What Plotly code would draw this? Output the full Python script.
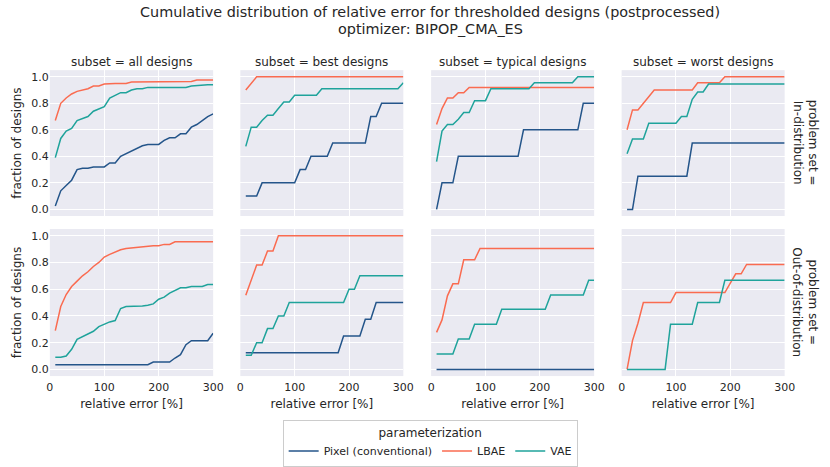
import plotly.graph_objects as go

# ---------------- data ----------------
thresholds = [10, 20, 30, 40, 50, 60, 70, 80, 90, 100,
              110, 120, 130, 140, 150, 160, 170, 180, 190, 200,
              210, 220, 230, 240, 250, 260, 270, 280, 290, 300]

subsets = ["all designs", "best designs", "typical designs", "worst designs"]
problem_sets = ["In-distribution", "Out-of-distribution"]
methods = ["Pixel (conventional)", "LBAE", "VAE"]
title_lines = ["Cumulative distribution of relative error for thresholded designs (postprocessed)",
               "optimizer: BIPOP_CMA_ES"]

# In-distribution
id_all_pixel = [0.025, 0.14, 0.18, 0.22, 0.30, 0.31, 0.31, 0.32, 0.32, 0.32,
                0.35, 0.35, 0.40, 0.42, 0.44, 0.46, 0.48, 0.49, 0.49, 0.49,
                0.52, 0.54, 0.54, 0.57, 0.57, 0.62, 0.64, 0.67, 0.70, 0.72]
id_all_lbae = [0.67, 0.80, 0.84, 0.87, 0.89, 0.90, 0.91, 0.93, 0.93, 0.945,
               0.95, 0.95, 0.95, 0.95, 0.96, 0.96, 0.96, 0.96, 0.965, 0.965,
               0.965, 0.965, 0.965, 0.965, 0.965, 0.965, 0.975, 0.975, 0.975, 0.975]
id_all_vae = [0.39, 0.535, 0.59, 0.61, 0.67, 0.685, 0.70, 0.74, 0.76, 0.775,
              0.84, 0.86, 0.88, 0.88, 0.90, 0.91, 0.91, 0.92, 0.92, 0.92,
              0.92, 0.92, 0.92, 0.92, 0.92, 0.93, 0.935, 0.935, 0.94, 0.94]

id_best_pixel = [0.1, 0.1, 0.1, 0.2, 0.2, 0.2, 0.2, 0.2, 0.2, 0.2,
                 0.3, 0.3, 0.4, 0.4, 0.4, 0.4, 0.5, 0.5, 0.5, 0.5,
                 0.5, 0.5, 0.5, 0.7, 0.7, 0.8, 0.8, 0.8, 0.8, 0.8]
id_best_lbae = [0.9, 0.95, 1.0, 1.0, 1.0, 1.0, 1.0, 1.0, 1.0, 1.0,
                1.0, 1.0, 1.0, 1.0, 1.0, 1.0, 1.0, 1.0, 1.0, 1.0,
                1.0, 1.0, 1.0, 1.0, 1.0, 1.0, 1.0, 1.0, 1.0, 1.0]
id_best_vae = [0.475, 0.62, 0.62, 0.67, 0.71, 0.71, 0.76, 0.81, 0.81, 0.86,
               0.86, 0.86, 0.86, 0.86, 0.91, 0.91, 0.91, 0.91, 0.91, 0.91,
               0.91, 0.91, 0.91, 0.91, 0.91, 0.91, 0.91, 0.91, 0.91, 0.955]

id_typical_pixel = [0.0, 0.2, 0.2, 0.2, 0.4, 0.4, 0.4, 0.4, 0.4, 0.4,
                    0.4, 0.4, 0.4, 0.4, 0.4, 0.4, 0.6, 0.6, 0.6, 0.6,
                    0.6, 0.6, 0.6, 0.6, 0.6, 0.6, 0.6, 0.8, 0.8, 0.8]
id_typical_lbae = [0.64, 0.76, 0.84, 0.84, 0.88, 0.88, 0.92, 0.92, 0.92, 0.92,
                   0.92, 0.92, 0.92, 0.92, 0.92, 0.92, 0.92, 0.92, 0.92, 0.92,
                   0.92, 0.92, 0.92, 0.92, 0.92, 0.92, 0.92, 0.92, 0.92, 0.92]
id_typical_vae = [0.36, 0.59, 0.64, 0.64, 0.68, 0.73, 0.73, 0.82, 0.82, 0.82,
                  0.91, 0.91, 0.91, 0.91, 0.91, 0.91, 0.91, 0.91, 0.955, 0.955,
                  0.955, 0.955, 0.955, 0.955, 0.955, 0.955, 1.0, 1.0, 1.0, 1.0]

id_worst_pixel = [0.0, 0.0, 0.25, 0.25, 0.25, 0.25, 0.25, 0.25, 0.25, 0.25,
                  0.25, 0.25, 0.5, 0.5, 0.5, 0.5, 0.5, 0.5, 0.5, 0.5,
                  0.5, 0.5, 0.5, 0.5, 0.5, 0.5, 0.5, 0.5, 0.5, 0.5]
id_worst_lbae = [0.6, 0.75, 0.75, 0.8, 0.85, 0.9, 0.9, 0.9, 0.9, 0.9,
                 0.9, 0.9, 0.9, 0.955, 0.955, 0.955, 0.955, 0.955, 1.0, 1.0,
                 1.0, 1.0, 1.0, 1.0, 1.0, 1.0, 1.0, 1.0, 1.0, 1.0]
id_worst_vae = [0.42, 0.53, 0.53, 0.53, 0.65, 0.65, 0.65, 0.65, 0.65, 0.65,
                0.70, 0.70, 0.83, 0.885, 0.885, 0.945, 0.945, 0.945, 0.945, 0.945,
                0.945, 0.945, 0.945, 0.945, 0.945, 0.945, 0.945, 0.945, 0.945, 0.945]

# Out-of-distribution
ood_all_pixel = [0.035, 0.035, 0.035, 0.035, 0.035, 0.035, 0.035, 0.035, 0.035, 0.035,
                 0.035, 0.035, 0.035, 0.035, 0.035, 0.035, 0.035, 0.035, 0.055, 0.055,
                 0.055, 0.055, 0.085, 0.11, 0.185, 0.215, 0.215, 0.215, 0.215, 0.27]
ood_all_lbae = [0.29, 0.47, 0.56, 0.62, 0.66, 0.70, 0.73, 0.77, 0.80, 0.84,
                0.86, 0.88, 0.895, 0.905, 0.91, 0.91, 0.915, 0.925, 0.925, 0.925,
                0.935, 0.935, 0.955, 0.955, 0.955, 0.955, 0.955, 0.955, 0.955, 0.955]
ood_all_vae = [0.09, 0.09, 0.10, 0.15, 0.225, 0.245, 0.27, 0.285, 0.32, 0.34,
               0.355, 0.365, 0.455, 0.47, 0.47, 0.47, 0.475, 0.48, 0.49, 0.525,
               0.54, 0.57, 0.59, 0.61, 0.61, 0.62, 0.62, 0.62, 0.635, 0.635]

ood_best_pixel = [0.125, 0.125, 0.125, 0.125, 0.125, 0.125, 0.125, 0.125, 0.125, 0.125,
                  0.125, 0.125, 0.125, 0.125, 0.125, 0.125, 0.125, 0.125, 0.25, 0.25,
                  0.25, 0.25, 0.375, 0.375, 0.5, 0.5, 0.5, 0.5, 0.5, 0.5]
ood_best_lbae = [0.555, 0.665, 0.78, 0.78, 0.885, 0.885, 1.0, 1.0, 1.0, 1.0,
                 1.0, 1.0, 1.0, 1.0, 1.0, 1.0, 1.0, 1.0, 1.0, 1.0,
                 1.0, 1.0, 1.0, 1.0, 1.0, 1.0, 1.0, 1.0, 1.0, 1.0]
ood_best_vae = [0.105, 0.105, 0.2, 0.2, 0.305, 0.305, 0.4, 0.4, 0.5, 0.5,
                0.5, 0.5, 0.5, 0.5, 0.5, 0.5, 0.5, 0.5, 0.5, 0.6,
                0.6, 0.7, 0.7, 0.7, 0.7, 0.7, 0.7, 0.7, 0.7, 0.7]

ood_typical_pixel = [0.0, 0.0, 0.0, 0.0, 0.0, 0.0, 0.0, 0.0, 0.0, 0.0,
                     0.0, 0.0, 0.0, 0.0, 0.0, 0.0, 0.0, 0.0, 0.0, 0.0,
                     0.0, 0.0, 0.0, 0.0, 0.0, 0.0, 0.0, 0.0, 0.0, 0.0]
ood_typical_lbae = [0.277, 0.37, 0.55, 0.64, 0.64, 0.82, 0.82, 0.82, 0.905, 0.905,
                    0.905, 0.905, 0.905, 0.905, 0.905, 0.905, 0.905, 0.905, 0.905, 0.905,
                    0.905, 0.905, 0.905, 0.905, 0.905, 0.905, 0.905, 0.905, 0.905, 0.905]
ood_typical_vae = [0.115, 0.115, 0.115, 0.115, 0.227, 0.227, 0.227, 0.338, 0.338, 0.338,
                   0.338, 0.338, 0.45, 0.45, 0.45, 0.45, 0.45, 0.45, 0.45, 0.45,
                   0.45, 0.556, 0.556, 0.556, 0.556, 0.556, 0.556, 0.556, 0.667, 0.667]

ood_worst_pixel = None  # no pixel designs in this subset
ood_worst_lbae = [0.0, 0.215, 0.345, 0.5, 0.5, 0.5, 0.5, 0.5, 0.5, 0.575,
                  0.575, 0.575, 0.575, 0.575, 0.575, 0.575, 0.575, 0.575, 0.575, 0.645,
                  0.715, 0.715, 0.785, 0.785, 0.785, 0.785, 0.785, 0.785, 0.785, 0.785]
ood_worst_vae = [0.0, 0.0, 0.0, 0.0, 0.0, 0.0, 0.0, 0.0, 0.338, 0.338,
                 0.338, 0.338, 0.338, 0.5, 0.5, 0.5, 0.5, 0.5, 0.667, 0.667,
                 0.667, 0.667, 0.667, 0.667, 0.667, 0.667, 0.667, 0.667, 0.667, 0.667]

panels = [
    [(id_all_pixel, id_all_lbae, id_all_vae),
     (id_best_pixel, id_best_lbae, id_best_vae),
     (id_typical_pixel, id_typical_lbae, id_typical_vae),
     (id_worst_pixel, id_worst_lbae, id_worst_vae)],
    [(ood_all_pixel, ood_all_lbae, ood_all_vae),
     (ood_best_pixel, ood_best_lbae, ood_best_vae),
     (ood_typical_pixel, ood_typical_lbae, ood_typical_vae),
     (ood_worst_pixel, ood_worst_lbae, ood_worst_vae)],
]

# ---------------- style ----------------
W, H = 830, 467
FONT = "DejaVu Sans"
TXT = "#262626"
colors = {"Pixel (conventional)": "#24558a", "LBAE": "#fa6b50", "VAE": "#1fa39b"}


def px(x):
    return x / W


def py(y):
    return 1 - y / H


col_px = [(46.7, 213.0), (240.7, 406.7), (435.0, 601.0), (629.0, 795.0)]
row_px = [(70.6, 217.4), (230.5, 378.5)]

fig = go.Figure()
shown = set()
for r in range(2):
    for c in range(4):
        k = r * 4 + c + 1
        xa = "x" if k == 1 else f"x{k}"
        ya = "y" if k == 1 else f"y{k}"
        for m, vals in zip(methods, panels[r][c]):
            if vals is None:
                continue
            fig.add_trace(go.Scatter(
                x=thresholds, y=vals, mode="lines", name=m,
                line=dict(color=colors[m], width=1.5),
                legendgroup=m, showlegend=(m not in shown),
                xaxis=xa, yaxis=ya))
            shown.add(m)
        x0, x1 = col_px[c]
        y0, y1 = row_px[r]
        xkey = "xaxis" if k == 1 else f"xaxis{k}"
        ykey = "yaxis" if k == 1 else f"yaxis{k}"
        fig.layout[xkey] = dict(
            domain=[px(x0), px(x1)], anchor=ya, range=[0, 300],
            tickvals=[0, 100, 200, 300], showticklabels=(r == 1),
            showgrid=True, gridcolor="white", gridwidth=1, zeroline=False,
            showline=False, ticks="", ticklabelstandoff=3,
            tickfont=dict(family=FONT, size=11, color=TXT),
            title=dict(text="relative error [%]" if r == 1 else "",
                       font=dict(family=FONT, size=12, color=TXT), standoff=6),
        )
        fig.layout[ykey] = dict(
            domain=[py(y1), py(y0)], anchor=xa, range=[-0.05, 1.05],
            tickvals=[0, 0.2, 0.4, 0.6, 0.8, 1.0], tickformat=".1f",
            showticklabels=(c == 0), showgrid=True, gridcolor="white", gridwidth=1,
            zeroline=False, showline=False, ticks="",
            tickfont=dict(family=FONT, size=11, color=TXT),
            title=dict(text="fraction of designs" if c == 0 else "",
                       font=dict(family=FONT, size=12, color=TXT), standoff=7),
        )

annotations = []
for line, ypos in zip(title_lines, [12.5, 29.5]):
    annotations.append(dict(text=line, x=px(434), y=py(ypos), xref="paper", yref="paper",
                            showarrow=False, xanchor="center", yanchor="middle",
                            font=dict(family=FONT, size=14.4, color=TXT)))
for c, s in enumerate(subsets):
    x0, x1 = col_px[c]
    annotations.append(dict(text=f"subset = {s}", x=px((x0 + x1) / 2), y=py(62),
                            xref="paper", yref="paper", showarrow=False,
                            xanchor="center", yanchor="middle",
                            font=dict(family=FONT, size=12, color=TXT)))
for r, p in enumerate(problem_sets):
    y0, y1 = row_px[r]
    annotations.append(dict(text=f"problem set =<br>{p}", x=px(816), y=py((y0 + y1) / 2),
                            xref="paper", yref="paper", showarrow=False, textangle=90,
                            xanchor="center", yanchor="middle",
                            font=dict(family=FONT, size=12, color=TXT)))

fig.update_layout(
    width=W, height=H, margin=dict(l=0, r=0, t=0, b=0),
    paper_bgcolor="white", plot_bgcolor="#EAEAF2",
    font=dict(family=FONT, color=TXT),
    annotations=annotations,
    legend=dict(orientation="h", x=px(434), xanchor="center", y=py(423), yanchor="top",
                bgcolor="rgba(255,255,255,0.9)", bordercolor="#cccccc", borderwidth=1,
                font=dict(family=FONT, size=11, color=TXT),
                title=dict(text="parameterization", side="top center",
                           font=dict(family=FONT, size=12, color=TXT)),
                traceorder="normal"),
)

fig.write_html("out.html", config={"displayModeBar": False},
               post_script="document.body.style.margin='0px';")
